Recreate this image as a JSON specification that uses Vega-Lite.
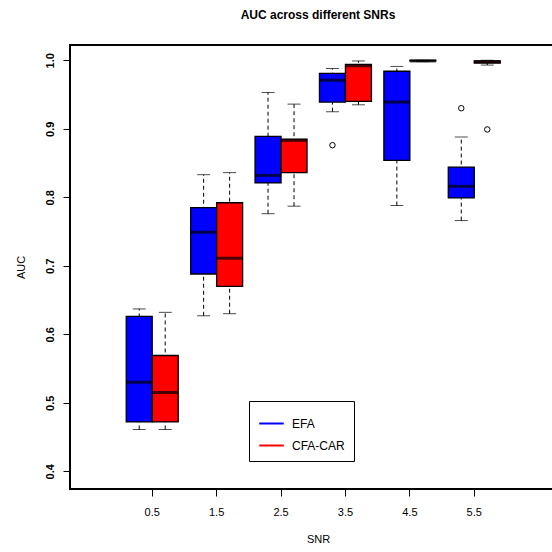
{
  "$schema": "https://vega.github.io/schema/vega-lite/v6.json",
  "width": 496,
  "height": 444,
  "autosize": "none",
  "padding": {"left": 70, "top": 45, "right": 0, "bottom": 63},
  "background": "white",
  "title": {"text": "AUC across different SNRs", "font": "Liberation Sans", "fontSize": 12, "fontWeight": "bold", "color": "black", "offset": 23, "anchor": "middle"},
  "config": {
    "view": {"stroke": "black", "strokeWidth": 2},
    "font": "Liberation Sans",
    "axis": {"grid": false, "domain": false, "tickColor": "black", "tickSize": 7, "labelColor": "black", "titleColor": "black", "labelFont": "Liberation Sans", "titleFont": "Liberation Sans", "titleFontWeight": "normal", "labelFontSize": 11, "titleFontSize": 11}
  },
  "datasets": {
    "boxes": [
      {"snr": "0.5", "method": "EFA", "lo": 0.461, "q1": 0.472, "med": 0.530, "q3": 0.626, "hi": 0.637},
      {"snr": "0.5", "method": "CFA-CAR", "lo": 0.461, "q1": 0.472, "med": 0.515, "q3": 0.569, "hi": 0.632},
      {"snr": "1.5", "method": "EFA", "lo": 0.627, "q1": 0.688, "med": 0.749, "q3": 0.785, "hi": 0.833},
      {"snr": "1.5", "method": "CFA-CAR", "lo": 0.630, "q1": 0.670, "med": 0.711, "q3": 0.792, "hi": 0.836},
      {"snr": "2.5", "method": "EFA", "lo": 0.776, "q1": 0.821, "med": 0.832, "q3": 0.889, "hi": 0.953},
      {"snr": "2.5", "method": "CFA-CAR", "lo": 0.787, "q1": 0.836, "med": 0.883, "q3": 0.885, "hi": 0.936},
      {"snr": "3.5", "method": "EFA", "lo": 0.925, "q1": 0.939, "med": 0.971, "q3": 0.981, "hi": 0.988},
      {"snr": "3.5", "method": "CFA-CAR", "lo": 0.935, "q1": 0.940, "med": 0.992, "q3": 0.994, "hi": 0.999},
      {"snr": "4.5", "method": "EFA", "lo": 0.788, "q1": 0.854, "med": 0.939, "q3": 0.984, "hi": 0.991},
      {"snr": "4.5", "method": "CFA-CAR", "lo": 0.998, "q1": 0.999, "med": 0.999, "q3": 1.0, "hi": 1.0},
      {"snr": "5.5", "method": "EFA", "lo": 0.766, "q1": 0.799, "med": 0.816, "q3": 0.844, "hi": 0.888},
      {"snr": "5.5", "method": "CFA-CAR", "lo": 0.993, "q1": 0.996, "med": 0.998, "q3": 0.999, "hi": 1.0}
    ],
    "outliers": [
      {"snr": "3.5", "method": "EFA", "value": 0.876},
      {"snr": "5.5", "method": "EFA", "value": 0.930},
      {"snr": "5.5", "method": "CFA-CAR", "value": 0.899}
    ]
  },
  "encoding": {
    "x": {"field": "snr", "type": "nominal", "sort": ["0.5", "1.5", "2.5", "3.5", "4.5", "5.5"],
      "scale": {"domain": ["0.5", "1.5", "2.5", "3.5", "4.5", "5.5"], "paddingInner": 0.193, "paddingOuter": 0.947, "align": 0.461},
      "axis": {"title": "SNR", "labelAngle": 0, "labelPadding": 10, "titlePadding": 16, "ticks": true}},
    "xOffset": {"field": "method", "type": "nominal", "scale": {"domain": ["EFA", "CFA-CAR"], "paddingInner": 0, "paddingOuter": 0}}
  },
  "layer": [
    {
      "data": {"name": "boxes"},
      "mark": {"type": "rule", "color": "black", "strokeDash": [4, 3], "strokeWidth": 1},
      "encoding": {
        "y": {"field": "lo", "type": "quantitative", "scale": {"domain": [0.3741, 1.0223], "nice": false, "zero": false},
          "axis": {"title": "AUC", "values": [0.4, 0.5, 0.6, 0.7, 0.8, 0.9, 1.0], "format": ".1f", "labelAngle": -90, "labelAlign": "center", "labelBaseline": "bottom", "labelFontWeight": "bold", "labelPadding": 8, "titlePadding": 18}},
        "y2": {"field": "hi"}
      }
    },
    {
      "data": {"name": "boxes"},
      "mark": {"type": "rule", "strokeWidth": 2},
      "encoding": {
        "y": {"field": "q1", "type": "quantitative"},
        "y2": {"field": "q1"},
        "stroke": {"field": "method", "type": "nominal", "scale": {"domain": ["EFA", "CFA-CAR"], "range": ["#0000ff", "#ff0000"]},
          "legend": {"title": null, "orient": "none", "legendX": 179, "legendY": 356, "strokeColor": "black", "padding": 9, "symbolType": "stroke", "symbolSize": 600, "symbolStrokeWidth": 2, "labelFontSize": 12, "labelFont": "Liberation Sans", "labelColor": "black", "labelOffset": 7, "rowPadding": 2, "cornerRadius": 0}}
      }
    },
    {
      "data": {"name": "boxes"},
      "mark": {"type": "bar", "stroke": "black", "strokeWidth": 1.3},
      "encoding": {
        "y": {"field": "q1", "type": "quantitative"},
        "y2": {"field": "q3"},
        "fill": {"field": "method", "type": "nominal", "scale": {"domain": ["EFA", "CFA-CAR"], "range": ["#0000ff", "#ff0000"]}, "legend": null}
      }
    },
    {
      "data": {"name": "boxes"},
      "mark": {"type": "tick", "color": "black", "size": 26, "thickness": 3},
      "encoding": {"y": {"field": "med", "type": "quantitative"}}
    },
    {
      "data": {"name": "boxes"},
      "mark": {"type": "tick", "color": "black", "size": 13, "thickness": 1},
      "encoding": {"y": {"field": "lo", "type": "quantitative"}}
    },
    {
      "data": {"name": "boxes"},
      "mark": {"type": "tick", "color": "black", "size": 13, "thickness": 1},
      "encoding": {"y": {"field": "hi", "type": "quantitative"}}
    },
    {
      "data": {"name": "outliers"},
      "mark": {"type": "point", "shape": "circle", "filled": false, "stroke": "black", "strokeWidth": 1, "size": 30, "opacity": 1},
      "encoding": {"y": {"field": "value", "type": "quantitative"}}
    }
  ]
}
